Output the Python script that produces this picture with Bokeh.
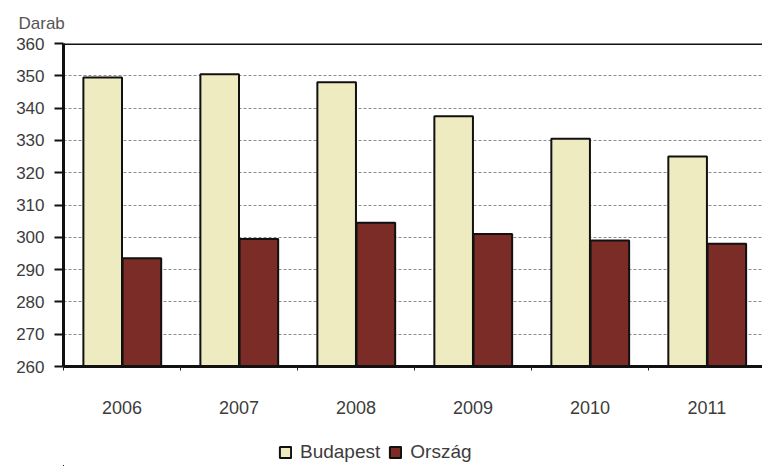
from bokeh.plotting import figure
from bokeh.layouts import column
from bokeh.models import (ColumnDataSource, Range1d, FixedTicker, Span, Title,
                          Legend, LegendItem)
from bokeh.embed import file_html
from bokeh.resources import INLINE

# Data: number of units per year, Budapest vs. country-wide
years = ["2006", "2007", "2008", "2009", "2010", "2011"]
budapest = [349.5, 350.5, 348.0, 337.5, 330.5, 325.0]
orszag = [293.5, 299.5, 304.5, 301.0, 299.0, 298.0]
y_ticks = [260, 270, 280, 290, 300, 310, 320, 330, 340, 350, 360]
series_names = ["Budapest", "Ország"]

FONT = "Liberation Sans"
TEXT_COLOR = "#3c3c3c"
BUD_COLOR = "#eeebc0"
ORSZ_COLOR = "#7b2c26"
EDGE = "#111111"
BAR_W = 0.33

idx = list(range(len(years)))
src = ColumnDataSource(dict(
    year=years,
    xb=[i + 0.335 for i in idx],
    xo=[i + 0.67 for i in idx],
    budapest=budapest,
    orszag=orszag,
))

p = figure(width=762, height=420, output_backend="svg", toolbar_location=None,
           x_range=Range1d(0, 5.975), y_range=Range1d(260, 360),
           min_border_left=63, min_border_right=0, min_border_top=43,
           min_border_bottom=54)
p.outline_line_color = None
p.background_fill_color = "white"
p.border_fill_color = "white"

# Horizontal dotted gridlines
p.xgrid.grid_line_color = None
p.ygrid.ticker = FixedTicker(ticks=y_ticks)
p.ygrid.grid_line_color = "#8c8c8c"
p.ygrid.grid_line_width = 1
p.ygrid.grid_line_dash = "3 2"

p.vbar(x="xb", top="budapest", bottom=260, width=BAR_W, source=src,
       fill_color=BUD_COLOR, line_color=EDGE, line_width=2)
p.vbar(x="xo", top="orszag", bottom=260, width=BAR_W, source=src,
       fill_color=ORSZ_COLOR, line_color=EDGE, line_width=2)

# Heavy top border of the plot area
p.add_layout(Span(location=360, dimension="width", line_color=EDGE,
                  line_width=3))

# Y axis
yax = p.yaxis[0]
yax.ticker = FixedTicker(ticks=y_ticks)
yax.axis_line_width = 3
yax.axis_line_color = EDGE
yax.major_tick_out = 9
yax.major_tick_in = 0
yax.major_tick_line_width = 2
yax.major_tick_line_color = EDGE
yax.minor_tick_line_color = None
yax.major_label_text_font = FONT
yax.major_label_text_font_size = "17px"
yax.major_label_text_color = TEXT_COLOR
yax.major_label_standoff = 10

# X axis: year labels centred in each category, small ticks at boundaries
xax = p.xaxis[0]
xax.ticker = FixedTicker(ticks=[i + 0.5 for i in idx],
                         minor_ticks=list(range(len(years) + 1)))
xax.major_label_overrides = {i + 0.5: y for i, y in zip(idx, years)}
xax.axis_line_width = 3
xax.axis_line_color = EDGE
xax.major_tick_line_color = None
xax.minor_tick_out = 4
xax.minor_tick_in = 0
xax.minor_tick_line_color = "#222222"
xax.minor_tick_line_width = 1
xax.major_label_text_font = FONT
xax.major_label_text_font_size = "18px"
xax.major_label_text_color = TEXT_COLOR
xax.major_label_standoff = 28

# Unit label above the y axis
p.add_layout(Title(text="Darab", align="left", offset=-45, standoff=22,
                   text_font=FONT, text_font_size="17px",
                   text_font_style="normal", text_color="#555555"), "above")

# Legend strip underneath the chart; its key renderers share the chart's
# source, but this strip's ranges keep the bars themselves out of view so
# only the legend swatches are drawn
leg = figure(width=762, height=46, output_backend="svg", toolbar_location=None,
             x_range=Range1d(100, 101), y_range=Range1d(1000, 1001),
             min_border=0, x_axis_type=None, y_axis_type=None)
leg.outline_line_color = None
leg.grid.visible = False
key_b = leg.vbar(x="xb", top="budapest", bottom=260, width=BAR_W, source=src,
                 fill_color=BUD_COLOR, line_color=EDGE, line_width=2)
key_o = leg.vbar(x="xo", top="orszag", bottom=260, width=BAR_W, source=src,
                 fill_color=ORSZ_COLOR, line_color=EDGE, line_width=2)
legend = Legend(items=[LegendItem(label=series_names[0], renderers=[key_b]),
                       LegendItem(label=series_names[1], renderers=[key_o])],
                orientation="horizontal", location=(215, 3),
                label_text_font=FONT, label_text_font_size="19px",
                label_text_color=TEXT_COLOR, glyph_width=14, glyph_height=14,
                label_standoff=8, spacing=8, padding=2, margin=0,
                border_line_color=None, background_fill_alpha=0)
leg.add_layout(legend, "center")

open("out.html", "w").write(file_html(column(p, leg, spacing=0), INLINE))
